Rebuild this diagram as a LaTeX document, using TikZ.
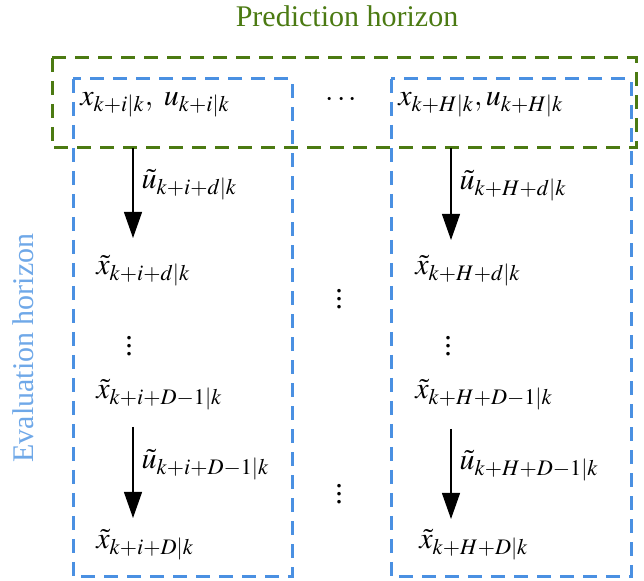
\documentclass[tikz,border=0pt]{standalone}
\usepackage{mathptmx}
\usepackage{fontspec}
\setmainfont{Liberation Serif}
\usepackage{tikz}
\usetikzlibrary{arrows.meta, positioning}
\definecolor{horgreen}{HTML}{4B7A12}
\definecolor{horblue}{HTML}{4A90E2}
\definecolor{horlabel}{HTML}{6FA8E8}

\tikzset{
  horbox/.style={line width=1.5pt, dash pattern=on 7pt off 4.5pt},
  arr/.style={-{Triangle[width=9pt, length=13pt]}, line width=0.6pt},
  mathlbl/.style={anchor=west, inner sep=0pt, font=\fontsize{15}{18}\selectfont}
}

\begin{document}
\begin{tikzpicture}[x=0.5pt, y=-0.5pt]
      \useasboundingbox (0,0) rectangle (644,581);
      % horizons
      \draw[horbox, horgreen] (52,58) rectangle (636,148);
      \draw[horbox, horblue] (73,79) rectangle (292,577);
      \draw[horbox, horblue] (391,79) rectangle (631,577);
      \node[font=\fontsize{15}{18}\selectfont, horgreen] (predlbl) at (347,16) {Prediction horizon};
      \node[font=\fontsize{15}{18}\selectfont, horlabel, rotate=90] (evallbl) at (23,348) {Evaluation horizon};
      % first column
      \node[mathlbl] (xi) at (80,105) {$x_{k+i|k},\ u_{k+i|k}$};
      \coordinate (ai1s) at (133,148);
      \coordinate (ai1e) at (133,238);
      \node[mathlbl] (xid) at (96,271) {$\tilde{x}_{k+i+d|k}$};
      \node[mathlbl] (vi) at (125,340) {$\vdots$};
      \node[mathlbl] (xiD1) at (96,395) {$\tilde{x}_{k+i+D-1|k}$};
      \coordinate (ai2s) at (133,427);
      \coordinate (ai2e) at (133,518);
      \node[mathlbl] (xiD) at (96,545) {$\tilde{x}_{k+i+D|k}$};
      \draw[arr] (ai1s) -- (ai1e) node[midway, mathlbl, xshift=4pt, yshift=4pt] (ui) {$\tilde{u}_{k+i+d|k}$};
      \draw[arr] (ai2s) -- (ai2e) node[midway, mathlbl, xshift=4pt, yshift=4pt] (uiD) {$\tilde{u}_{k+i+D-1|k}$};
      % dots between columns
      \node[mathlbl] (hdots) at (325,100) {$\cdots$};
      \node[mathlbl] (vm1) at (335,293) {$\vdots$};
      \node[mathlbl] (vm2) at (335,488) {$\vdots$};
      % last column
      \node[mathlbl] (xH) at (398,105) {$x_{k+H|k},u_{k+H|k}$};
      \coordinate (aH1s) at (451,148);
      \coordinate (aH1e) at (451,240);
      \node[mathlbl] (xHd) at (415,271) {$\tilde{x}_{k+H+d|k}$};
      \node[mathlbl] (vH) at (444,340) {$\vdots$};
      \node[mathlbl] (xHD1) at (415,395) {$\tilde{x}_{k+H+D-1|k}$};
      \coordinate (aH2s) at (451,429);
      \coordinate (aH2e) at (451,519);
      \node[mathlbl] (xHD) at (419,545) {$\tilde{x}_{k+H+D|k}$};
      \draw[arr] (aH1s) -- (aH1e) node[midway, mathlbl, xshift=4pt, yshift=4pt] (uH) {$\tilde{u}_{k+H+d|k}$};
      \draw[arr] (aH2s) -- (aH2e) node[midway, mathlbl, xshift=4pt, yshift=4pt] (uHD) {$\tilde{u}_{k+H+D-1|k}$};
    \end{tikzpicture}
\end{document}
